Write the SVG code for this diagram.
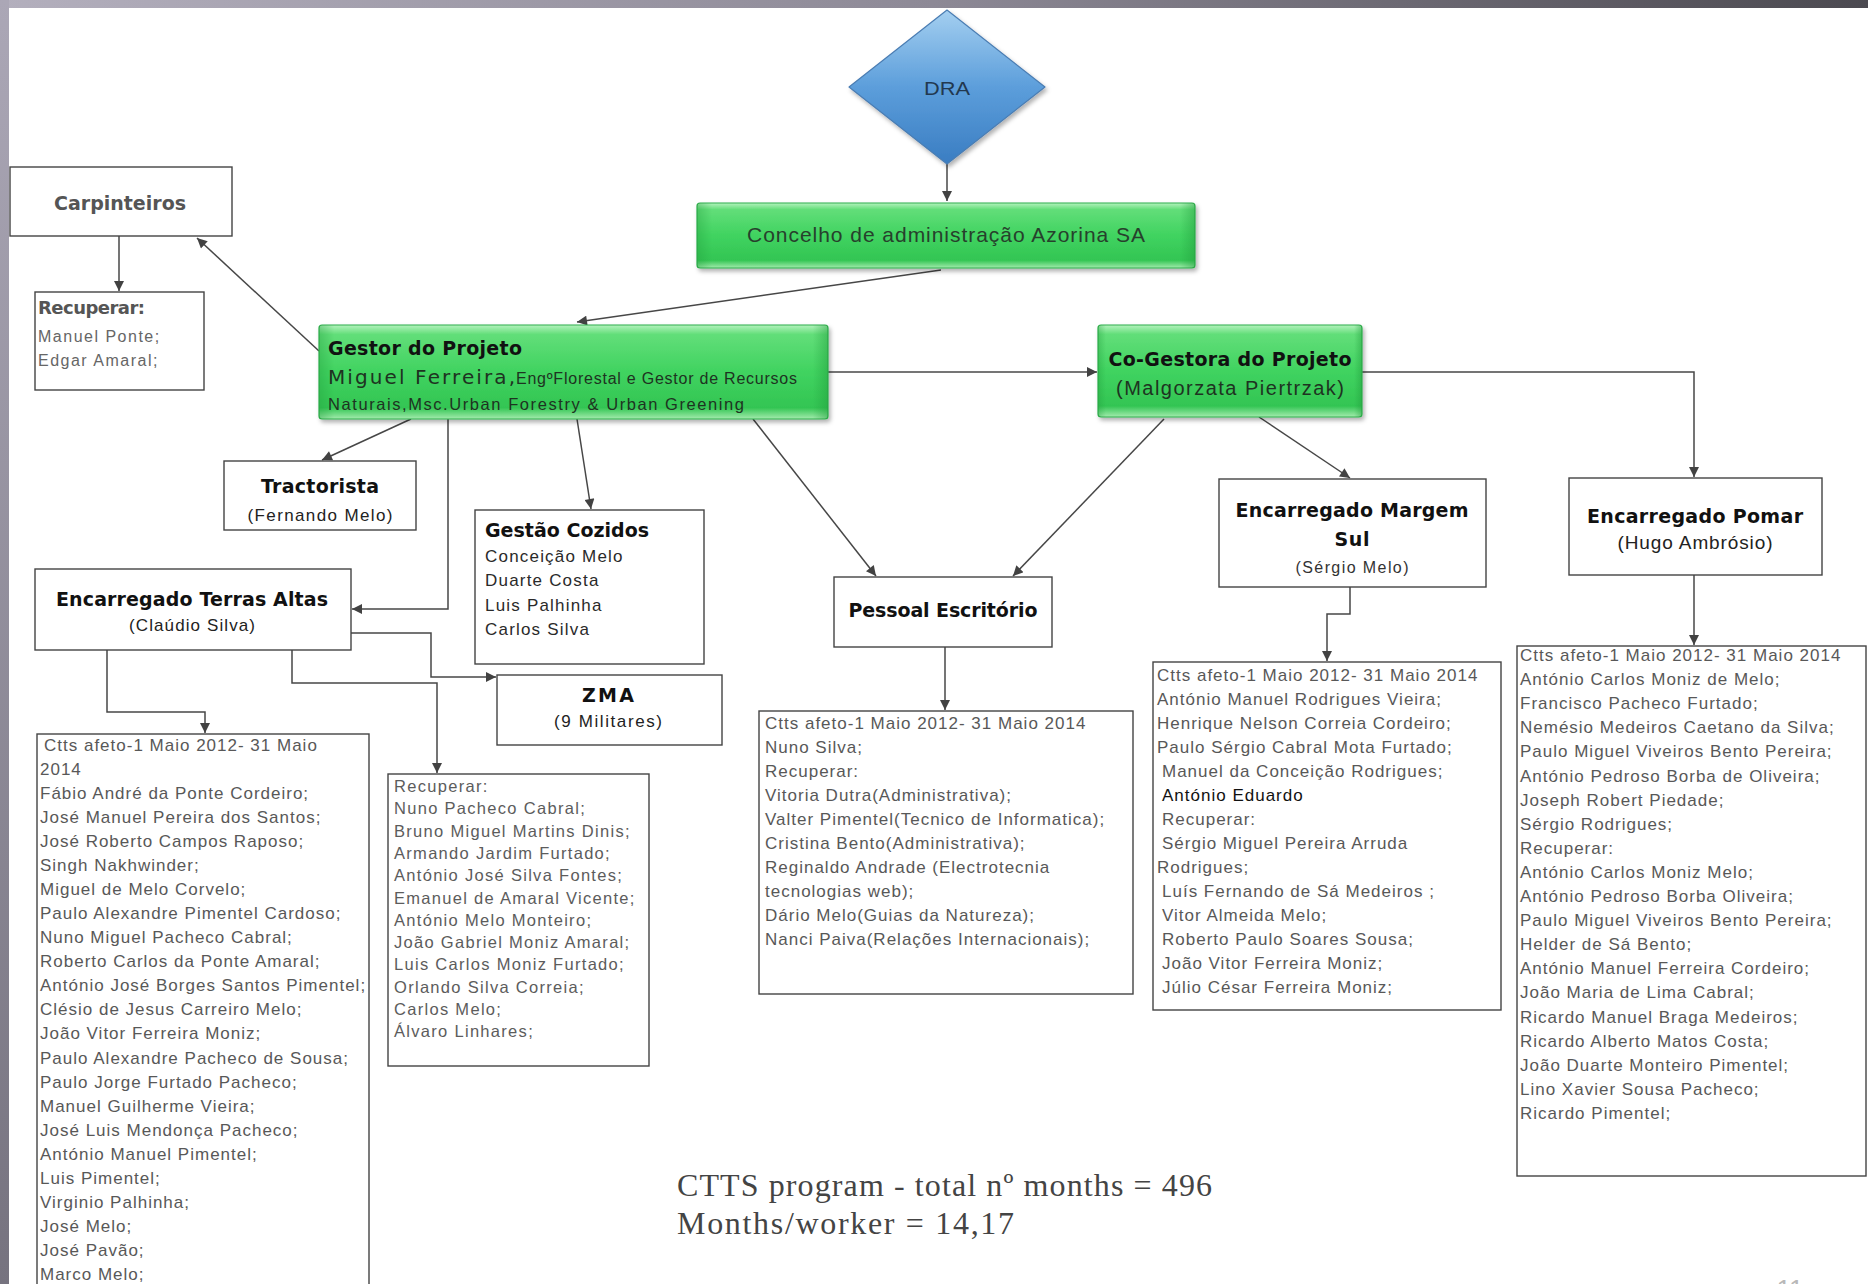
<svg xmlns="http://www.w3.org/2000/svg" width="1868" height="1284" viewBox="0 0 1868 1284">
<defs>
<linearGradient id="topbar" x1="0" y1="0" x2="1" y2="0">
<stop offset="0" stop-color="#b3afbd"/><stop offset="0.5" stop-color="#8d8996"/><stop offset="1" stop-color="#4b4950"/>
</linearGradient>
<linearGradient id="leftbar" x1="0" y1="0" x2="0" y2="1">
<stop offset="0" stop-color="#aba7b6"/><stop offset="1" stop-color="#76737f"/>
</linearGradient>
<linearGradient id="green" x1="0" y1="0" x2="0" y2="1">
<stop offset="0" stop-color="#b4f2bd"/><stop offset="0.1" stop-color="#62de79"/><stop offset="0.5" stop-color="#40d360"/><stop offset="0.88" stop-color="#33c553"/><stop offset="1" stop-color="#a3ebad"/>
</linearGradient>
<linearGradient id="greenEdge" x1="0" y1="0" x2="1" y2="0">
<stop offset="0" stop-color="#1f9a3a" stop-opacity="0.35"/><stop offset="0.03" stop-color="#1f9a3a" stop-opacity="0"/><stop offset="0.97" stop-color="#1f9a3a" stop-opacity="0"/><stop offset="1" stop-color="#1f9a3a" stop-opacity="0.45"/>
</linearGradient>
<linearGradient id="blue" x1="0" y1="0" x2="0" y2="1">
<stop offset="0" stop-color="#a4cff0"/><stop offset="0.5" stop-color="#5c9edb"/><stop offset="1" stop-color="#3a7dc2"/>
</linearGradient>
<filter id="sh" x="-10%" y="-10%" width="120%" height="130%">
<feDropShadow dx="2" dy="3" stdDeviation="2" flood-color="#000" flood-opacity="0.3"/>
</filter>
<marker id="ah" viewBox="0 0 10 10" refX="10" refY="5" markerWidth="11" markerHeight="10" orient="auto" markerUnits="userSpaceOnUse">
<path d="M0,0 L10,5 L0,10 z" fill="#424242"/>
</marker>
</defs>
<style>
.box{fill:#fff;stroke:#444;stroke-width:1.4}
.gbox{fill:url(#green);stroke:#2fae4c;stroke-width:1.2}
.conn{fill:none;stroke:#474747;stroke-width:1.5;marker-end:url(#ah)}
.t{font-family:"Liberation Sans",Arial,sans-serif}
.b{font-family:"DejaVu Sans",Verdana,sans-serif;font-weight:bold;fill:#111;font-size:19px}
.c{text-anchor:middle}
.list{font-family:"Liberation Sans",Arial,sans-serif;font-size:17px;letter-spacing:1px;fill:#585858}
.mlist{font-family:"Liberation Sans",Arial,sans-serif;font-size:16.5px;letter-spacing:1.3px;fill:#5c5c5c}
</style>

<rect x="0" y="0" width="1868" height="1284" fill="#ffffff"/>
<rect x="0" y="0" width="1868" height="8" fill="url(#topbar)"/>
<rect x="0" y="0" width="9" height="1284" fill="url(#leftbar)"/>

<g id="connectors">
<path class="conn" d="M947,164 V201"/>
<path class="conn" d="M941,270 L577,322"/>
<path class="conn" d="M319,351 L197,238"/>
<path class="conn" d="M119,236 V291"/>
<path class="conn" d="M828,372 H1097"/>
<path class="conn" d="M1362,372 H1694 V477"/>
<path class="conn" d="M1694,575 V645"/>
<path class="conn" d="M1259,417 L1350,478"/>
<path class="conn" d="M1164,419 L1013,576"/>
<path class="conn" d="M753,419 L876,576"/>
<path class="conn" d="M945,647 V710"/>
<path class="conn" d="M1350,587 V614 H1327 V661"/>
<path class="conn" d="M411,419 L322,460"/>
<path class="conn" d="M577,419 L591,509"/>
<path class="conn" d="M448,419 V609 H352"/>
<path class="conn" d="M351,633 H431 V677 H496"/>
<path class="conn" d="M292,650 V683 H437 V773"/>
<path class="conn" d="M107,650 V712 H205 V733"/>
</g>

<g id="dra">
<path d="M947,10 L1045,87 L947,164 L849,87 Z" fill="url(#blue)" stroke="#4a7db3" stroke-width="1.2" stroke-linejoin="round" filter="url(#sh)"/>
<text class="t c" x="947" y="95" font-size="19" fill="#22384f" textLength="46" lengthAdjust="spacingAndGlyphs">DRA</text>
</g>

<g id="concelho">
<rect class="gbox" x="697" y="203" width="498" height="65" rx="3" filter="url(#sh)"/>
<rect x="697" y="203" width="498" height="65" rx="3" fill="url(#greenEdge)"/>
<text class="t c" x="946" y="242" font-size="21" fill="#27402c" textLength="398" lengthAdjust="spacing">Concelho de administração Azorina SA</text>
</g>

<g id="gestor">
<rect class="gbox" x="319" y="325" width="509" height="94" rx="3" filter="url(#sh)"/>
<rect x="319" y="325" width="509" height="94" rx="3" fill="url(#greenEdge)"/>
<text class="b" x="328" y="355" textLength="194" lengthAdjust="spacing">Gestor do Projeto</text>
<text x="328" y="384" font-family="'DejaVu Sans',Verdana,sans-serif" font-size="20" fill="#1e3321" textLength="187" lengthAdjust="spacing">Miguel Ferreira,</text>
<text class="t" x="516" y="384" font-size="16" fill="#1e3321" textLength="281" lengthAdjust="spacing">EngºFlorestal e Gestor de Recursos</text>
<text class="t" x="328" y="410" font-size="16.5" fill="#1e3321" textLength="416" lengthAdjust="spacing">Naturais,Msc.Urban Forestry &amp; Urban Greening</text>
</g>

<g id="cogestora">
<rect class="gbox" x="1098" y="325" width="264" height="92" rx="3" filter="url(#sh)"/>
<rect x="1098" y="325" width="264" height="92" rx="3" fill="url(#greenEdge)"/>
<text class="b c" x="1230" y="366" textLength="243" lengthAdjust="spacing">Co-Gestora do Projeto</text>
<text class="t c" x="1230" y="395" font-size="20" fill="#1e3321" textLength="228" lengthAdjust="spacing">(Malgorzata Piertrzak)</text>
</g>

<g id="carpinteiros">
<rect class="box" x="10" y="167" width="222" height="69"/>
<text class="b c" x="120" y="210" fill="#555" style="fill:#555" textLength="132" lengthAdjust="spacing">Carpinteiros</text>
</g>

<g id="carp-recuperar">
<rect class="box" x="35" y="292" width="169" height="98"/>
<text class="b" x="38" y="314" style="fill:#555;font-size:18px" textLength="107" lengthAdjust="spacing">Recuperar:</text>
<text class="t" x="38" y="342" font-size="16" fill="#666" letter-spacing="1.5">Manuel Ponte;</text>
<text class="t" x="38" y="366" font-size="16" fill="#666" letter-spacing="1.5">Edgar Amaral;</text>
</g>

<g id="tractorista">
<rect class="box" x="224" y="461" width="192" height="69"/>
<text class="b c" x="320" y="493" textLength="118" lengthAdjust="spacing">Tractorista</text>
<text class="t c" x="320" y="521" font-size="17" fill="#222" textLength="145" lengthAdjust="spacing">(Fernando Melo)</text>
</g>

<g id="cozidos">
<rect class="box" x="475" y="510" width="229" height="154"/>
<text class="b" x="485" y="537" textLength="164" lengthAdjust="spacing">Gestão Cozidos</text>
<text class="t" x="485" y="562" font-size="17" fill="#2a2a2a" letter-spacing="1.2">Conceição Melo</text>
<text class="t" x="485" y="586" font-size="17" fill="#2a2a2a" letter-spacing="1.2">Duarte Costa</text>
<text class="t" x="485" y="611" font-size="17" fill="#2a2a2a" letter-spacing="1.2">Luis Palhinha</text>
<text class="t" x="485" y="635" font-size="17" fill="#2a2a2a" letter-spacing="1.2">Carlos Silva</text>
</g>

<g id="terras-altas">
<rect class="box" x="35" y="569" width="316" height="81"/>
<text class="b c" x="192" y="606" textLength="272" lengthAdjust="spacing">Encarregado Terras Altas</text>
<text class="t c" x="192" y="631" font-size="17" fill="#222" textLength="126" lengthAdjust="spacing">(Claúdio Silva)</text>
</g>

<g id="zma">
<rect class="box" x="497" y="675" width="225" height="70"/>
<text class="b c" x="608" y="702" textLength="52" lengthAdjust="spacing">ZMA</text>
<text class="t c" x="608" y="727" font-size="17" fill="#222" textLength="108" lengthAdjust="spacing">(9 Militares)</text>
</g>

<g id="pessoal">
<rect class="box" x="834" y="577" width="218" height="70"/>
<text class="b c" x="943" y="617" textLength="189" lengthAdjust="spacing">Pessoal Escritório</text>
</g>

<g id="margem-sul">
<rect class="box" x="1219" y="479" width="267" height="108"/>
<text class="b c" x="1352" y="517" textLength="233" lengthAdjust="spacing">Encarregado Margem</text>
<text class="b c" x="1352" y="546" textLength="35" lengthAdjust="spacing">Sul</text>
<text class="t c" x="1352" y="573" font-size="16" fill="#333" textLength="113" lengthAdjust="spacing">(Sérgio Melo)</text>
</g>

<g id="pomar">
<rect class="box" x="1569" y="478" width="253" height="97"/>
<text class="b c" x="1695" y="523" textLength="216" lengthAdjust="spacing">Encarregado Pomar</text>
<text class="t c" x="1695" y="549" font-size="19" fill="#222" textLength="155" lengthAdjust="spacing">(Hugo Ambrósio)</text>
</g>

<g id="terras-lista">
<rect class="box" x="37" y="734" width="332" height="600"/>
<text class="list">
<tspan x="44" y="751">Ctts afeto-1 Maio 2012- 31 Maio</tspan>
<tspan x="40" dy="24.04">2014</tspan>
<tspan x="40" dy="24.04">Fábio André da Ponte Cordeiro;</tspan>
<tspan x="40" dy="24.04">José Manuel Pereira dos Santos;</tspan>
<tspan x="40" dy="24.04">José Roberto Campos Raposo;</tspan>
<tspan x="40" dy="24.04">Singh Nakhwinder;</tspan>
<tspan x="40" dy="24.04">Miguel de Melo Corvelo;</tspan>
<tspan x="40" dy="24.04">Paulo Alexandre Pimentel Cardoso;</tspan>
<tspan x="40" dy="24.04">Nuno Miguel Pacheco Cabral;</tspan>
<tspan x="40" dy="24.04">Roberto Carlos da Ponte Amaral;</tspan>
<tspan x="40" dy="24.04">António José Borges Santos Pimentel;</tspan>
<tspan x="40" dy="24.04">Clésio de Jesus Carreiro Melo;</tspan>
<tspan x="40" dy="24.04">João Vitor Ferreira Moniz;</tspan>
<tspan x="40" dy="24.04">Paulo Alexandre Pacheco de Sousa;</tspan>
<tspan x="40" dy="24.04">Paulo Jorge Furtado Pacheco;</tspan>
<tspan x="40" dy="24.04">Manuel Guilherme Vieira;</tspan>
<tspan x="40" dy="24.04">José Luis Mendonça Pacheco;</tspan>
<tspan x="40" dy="24.04">António Manuel Pimentel;</tspan>
<tspan x="40" dy="24.04">Luis Pimentel;</tspan>
<tspan x="40" dy="24.04">Virginio Palhinha;</tspan>
<tspan x="40" dy="24.04">José Melo;</tspan>
<tspan x="40" dy="24.04">José Pavão;</tspan>
<tspan x="40" dy="24.04">Marco Melo;</tspan>
</text>
</g>

<g id="terras-recuperar">
<rect class="box" x="388" y="774" width="261" height="292"/>
<text class="mlist">
<tspan x="394" y="792">Recuperar:</tspan>
<tspan x="394" dy="22.3">Nuno Pacheco Cabral;</tspan>
<tspan x="394" dy="22.3">Bruno Miguel Martins Dinis;</tspan>
<tspan x="394" dy="22.3">Armando Jardim Furtado;</tspan>
<tspan x="394" dy="22.3">António José Silva Fontes;</tspan>
<tspan x="394" dy="22.3">Emanuel de Amaral Vicente;</tspan>
<tspan x="394" dy="22.3">António Melo Monteiro;</tspan>
<tspan x="394" dy="22.3">João Gabriel Moniz Amaral;</tspan>
<tspan x="394" dy="22.3">Luis Carlos Moniz Furtado;</tspan>
<tspan x="394" dy="22.3">Orlando Silva Correia;</tspan>
<tspan x="394" dy="22.3">Carlos Melo;</tspan>
<tspan x="394" dy="22.3">Álvaro Linhares;</tspan>
</text>
</g>

<g id="pessoal-lista">
<rect class="box" x="759" y="711" width="374" height="283"/>
<text class="list">
<tspan x="765" y="729">Ctts afeto-1 Maio 2012- 31 Maio 2014</tspan>
<tspan x="765" dy="24.05">Nuno Silva;</tspan>
<tspan x="765" dy="24.05">Recuperar:</tspan>
<tspan x="765" dy="24.05">Vitoria Dutra(Administrativa);</tspan>
<tspan x="765" dy="24.05">Valter Pimentel(Tecnico de Informatica);</tspan>
<tspan x="765" dy="24.05">Cristina Bento(Administrativa);</tspan>
<tspan x="765" dy="24.05">Reginaldo Andrade (Electrotecnia</tspan>
<tspan x="765" dy="24.05">tecnologias web);</tspan>
<tspan x="765" dy="24.05">Dário Melo(Guias da Natureza);</tspan>
<tspan x="765" dy="24.05">Nanci Paiva(Relações Internacionais);</tspan>
</text>
</g>

<g id="margem-lista">
<rect class="box" x="1153" y="662" width="348" height="348"/>
<text class="list">
<tspan x="1157" y="681">Ctts afeto-1 Maio 2012- 31 Maio 2014</tspan>
<tspan x="1157" dy="24">António Manuel Rodrigues Vieira;</tspan>
<tspan x="1157" dy="24">Henrique Nelson Correia Cordeiro;</tspan>
<tspan x="1157" dy="24">Paulo Sérgio Cabral Mota Furtado;</tspan>
<tspan x="1162" dy="24">Manuel da Conceição Rodrigues;</tspan>
<tspan x="1162" dy="24" fill="#111">António Eduardo</tspan>
<tspan x="1162" dy="24">Recuperar:</tspan>
<tspan x="1162" dy="24">Sérgio Miguel Pereira Arruda</tspan>
<tspan x="1157" dy="24">Rodrigues;</tspan>
<tspan x="1162" dy="24">Luís Fernando de Sá Medeiros ;</tspan>
<tspan x="1162" dy="24">Vitor Almeida Melo;</tspan>
<tspan x="1162" dy="24">Roberto Paulo Soares Sousa;</tspan>
<tspan x="1162" dy="24">João Vitor Ferreira Moniz;</tspan>
<tspan x="1162" dy="24">Júlio César Ferreira Moniz;</tspan>
</text>
</g>

<g id="pomar-lista">
<rect class="box" x="1517" y="646" width="349" height="530"/>
<text class="list">
<tspan x="1520" y="661">Ctts afeto-1 Maio 2012- 31 Maio 2014</tspan>
<tspan x="1520" dy="24.1">António Carlos Moniz de Melo;</tspan>
<tspan x="1520" dy="24.1">Francisco Pacheco Furtado;</tspan>
<tspan x="1520" dy="24.1">Nemésio Medeiros Caetano da Silva;</tspan>
<tspan x="1520" dy="24.1">Paulo Miguel Viveiros Bento Pereira;</tspan>
<tspan x="1520" dy="24.1">António Pedroso Borba de Oliveira;</tspan>
<tspan x="1520" dy="24.1">Joseph Robert Piedade;</tspan>
<tspan x="1520" dy="24.1">Sérgio Rodrigues;</tspan>
<tspan x="1520" dy="24.1">Recuperar:</tspan>
<tspan x="1520" dy="24.1">António Carlos Moniz Melo;</tspan>
<tspan x="1520" dy="24.1">António Pedroso Borba Oliveira;</tspan>
<tspan x="1520" dy="24.1">Paulo Miguel Viveiros Bento Pereira;</tspan>
<tspan x="1520" dy="24.1">Helder de Sá Bento;</tspan>
<tspan x="1520" dy="24.1">António Manuel Ferreira Cordeiro;</tspan>
<tspan x="1520" dy="24.1">João Maria de Lima Cabral;</tspan>
<tspan x="1520" dy="24.1">Ricardo Manuel Braga Medeiros;</tspan>
<tspan x="1520" dy="24.1">Ricardo Alberto Matos Costa;</tspan>
<tspan x="1520" dy="24.1">João Duarte Monteiro Pimentel;</tspan>
<tspan x="1520" dy="24.1">Lino Xavier Sousa Pacheco;</tspan>
<tspan x="1520" dy="24.1">Ricardo Pimentel;</tspan>
</text>
</g>

<g id="summary">
<text x="677" y="1196" font-family="'Liberation Serif','Times New Roman',serif" font-size="32" fill="#444" textLength="535" lengthAdjust="spacing">CTTS program - total nº months = 496</text>
<text x="677" y="1234" font-family="'Liberation Serif','Times New Roman',serif" font-size="32" fill="#444" textLength="337" lengthAdjust="spacing">Months/worker = 14,17</text>
</g>

<text x="1790" y="1298" font-family="'Liberation Sans',Arial,sans-serif" font-size="26" fill="#b8b8b8" text-anchor="middle">11</text>
</svg>
